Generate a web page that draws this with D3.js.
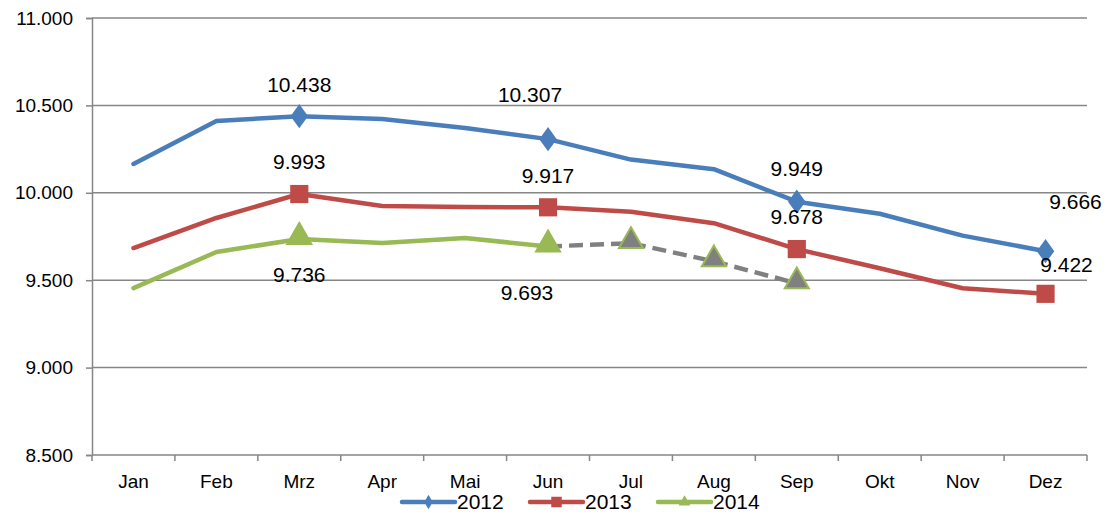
<!DOCTYPE html>
<html>
<head>
<meta charset="utf-8">
<script src="https://d3js.org/d3.v7.min.js"></script>
<style>
  body { margin: 0; background: #fff; }
  text { font-family: "Liberation Sans", Arial, sans-serif; fill: #000; }
</style>
</head>
<body>
<svg width="1106" height="517"></svg>
<script>
  var months = ["Jan", "Feb", "Mrz", "Apr", "Mai", "Jun", "Jul", "Aug", "Sep", "Okt", "Nov", "Dez"];
  var values2012 = [10165, 10411, 10438, 10422, 10371, 10307, 10190, 10135, 9949, 9880, 9755, 9666];
  var values2013 = [9684, 9856, 9993, 9924, 9919, 9917, 9892, 9826, 9678, 9568, 9454, 9422];
  var values2014 = [9455, 9661, 9736, 9713, 9741, 9693, 9712, 9608, 9482];
  var forecastFrom = 5; // 2014 ab Jun gestrichelt (Hochrechnung)
  var yTicks = [8500, 9000, 9500, 10000, 10500, 11000];
  var labeled = [2, 5, 8, 11];

  var svg = d3.select("svg"),
      margin = { top: 18, right: 19, bottom: 62, left: 92 },
      width = 1106 - margin.left - margin.right,
      height = 517 - margin.top - margin.bottom,
      g = svg.append("g").attr("transform", "translate(" + margin.left + "," + margin.top + ")");

  var x = d3.scaleBand().domain(months).range([0, width]).padding(0);
  var y = d3.scaleLinear().domain([8500, 11000]).range([height, 0]);
  var cx = function (i) { return x(months[i]) + x.bandwidth() / 2; };

  var fmt = function (v) { return d3.format(",")(v).replace(/,/g, "."); };

  // gridlines
  g.selectAll(".grid").data(yTicks.slice(1)).enter().append("line")
      .attr("x1", 0).attr("x2", width)
      .attr("y1", function (d) { return y(d); }).attr("y2", function (d) { return y(d); })
      .attr("stroke", "#868686").attr("stroke-width", 1.5);

  // y axis
  var yAxis = g.append("g")
      .call(d3.axisLeft(y).tickValues(yTicks).tickSize(6).tickPadding(13).tickFormat(fmt));
  yAxis.select(".domain").attr("stroke", "#868686").attr("stroke-width", 1.5);
  yAxis.selectAll("line").attr("stroke", "#868686").attr("stroke-width", 1.5);
  yAxis.selectAll("text").style("font-size", "19px").attr("fill", "#000");

  // x axis
  var xAxis = g.append("g").attr("transform", "translate(0," + height + ")");
  xAxis.append("line").attr("x1", 0).attr("x2", width)
      .attr("stroke", "#868686").attr("stroke-width", 1.5);
  xAxis.selectAll(".tk").data(d3.range(months.length + 1)).enter().append("line")
      .attr("x1", function (i) { return i * x.bandwidth(); })
      .attr("x2", function (i) { return i * x.bandwidth(); })
      .attr("y1", 0).attr("y2", 6)
      .attr("stroke", "#868686").attr("stroke-width", 1.5);
  xAxis.selectAll(".lb").data(months).enter().append("text")
      .attr("x", function (d, i) { return cx(i); })
      .attr("y", 33)
      .attr("text-anchor", "middle")
      .style("font-size", "19px")
      .text(function (d) { return d; });

  var line = d3.line()
      .x(function (d) { return cx(d.i); })
      .y(function (d) { return y(d.v); });

  function pts(arr) { return arr.map(function (v, i) { return { i: i, v: v }; }); }

  var blue = "#4A7EBB", red = "#BE4B48", green = "#98B954", grey = "#808080";

  var p12 = pts(values2012), p13 = pts(values2013), p14 = pts(values2014);

  g.append("path").datum(p12).attr("d", line).attr("fill", "none")
      .attr("stroke", blue).attr("stroke-width", 4.5).attr("stroke-linejoin", "round").attr("stroke-linecap", "round");
  g.append("path").datum(p13).attr("d", line).attr("fill", "none")
      .attr("stroke", red).attr("stroke-width", 4.5).attr("stroke-linejoin", "round").attr("stroke-linecap", "round");
  g.append("path").datum(p14.slice(forecastFrom)).attr("d", line).attr("fill", "none")
      .attr("stroke", grey).attr("stroke-width", 4.5).attr("stroke-dasharray", "14,7");
  g.append("path").datum(p14.slice(0, forecastFrom + 1)).attr("d", line).attr("fill", "none")
      .attr("stroke", green).attr("stroke-width", 4.5).attr("stroke-linejoin", "round").attr("stroke-linecap", "round");

  var diamond = d3.symbol().type(d3.symbolDiamond).size(170);
  var square = d3.symbol().type(d3.symbolSquare).size(330);
  var triangle = d3.symbol().type(d3.symbolTriangle).size(250);

  g.selectAll(".m12").data(labeled.map(function (i) { return p12[i]; })).enter().append("path")
      .attr("d", diamond)
      .attr("transform", function (d) { return "translate(" + cx(d.i) + "," + y(d.v) + ") scale(1.25,1)"; })
      .attr("fill", blue);
  g.selectAll(".m13").data(labeled.map(function (i) { return p13[i]; })).enter().append("path")
      .attr("d", square)
      .attr("transform", function (d) { return "translate(" + cx(d.i) + "," + y(d.v) + ")"; })
      .attr("fill", red);
  g.selectAll(".m14").data(p14.filter(function (d) { return d.i === 2 || d.i >= forecastFrom; })).enter().append("path")
      .attr("d", triangle)
      .attr("transform", function (d) { return "translate(" + cx(d.i) + "," + (y(d.v) - 2) + ")"; })
      .attr("fill", function (d) { return d.i > forecastFrom ? grey : green; })
      .attr("stroke", green).attr("stroke-width", 2);

  // data labels: [series values, index, dx, dy]
  var labels = [
    [values2012, 2, 0, -32], [values2012, 5, -18, -44], [values2012, 8, 0, -33], [values2012, 11, 30, -50],
    [values2013, 2, 0, -32], [values2013, 5, 0, -32], [values2013, 8, 0, -32], [values2013, 11, 21, -29],
    [values2014, 2, 0, 36], [values2014, 5, -21, 46]
  ];
  g.selectAll(".dl").data(labels).enter().append("text")
      .attr("x", function (d) { return cx(d[1]) + d[2]; })
      .attr("y", function (d) { return y(d[0][d[1]]) + d[3]; })
      .attr("text-anchor", "middle")
      .attr("dy", "0.35em")
      .style("font-size", "21px")
      .text(function (d) { return fmt(d[0][d[1]]); });

  // legend
  var legend = [["2012", blue, diamond], ["2013", red, square], ["2014", green, triangle]];
  var lg = svg.append("g").attr("transform", "translate(402,502)");
  legend.forEach(function (d, k) {
    var gx = k * 128;
    lg.append("line").attr("x1", gx).attr("x2", gx + 53).attr("y1", 0).attr("y2", 0)
        .attr("stroke", d[1]).attr("stroke-width", 4.5).attr("stroke-linecap", "round");
    lg.append("path").attr("d", d[2].size(k === 1 ? 110 : 60))
        .attr("transform", "translate(" + (gx + 26.5) + ",0)").attr("fill", d[1]);
    lg.append("text").attr("x", gx + 55).attr("y", 0).attr("dy", "0.35em")
        .style("font-size", "21px").text(d[0]);
  });
</script>
</body>
</html>
